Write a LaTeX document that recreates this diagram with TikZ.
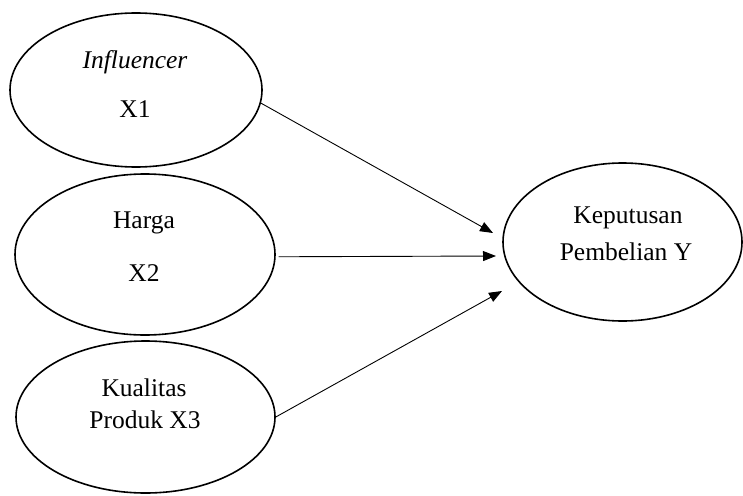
\documentclass[tikz,border=0pt]{standalone}
\usepackage{fontspec}
\setmainfont{Liberation Serif}
\usetikzlibrary{shapes.geometric,arrows.meta}
\begin{document}
\begin{tikzpicture}[x=1pt,y=-1pt,
  var/.style={draw=black,line width=1.6pt,ellipse,inner sep=0pt},
  lbl/.style={inner sep=0pt,font=\fontsize{25.5}{30}\selectfont},
  conn/.style={draw=black,line width=0.9pt,-{Triangle[length=13pt,width=10pt]}}]
\useasboundingbox (0,0) rectangle (743,495);
\node[var,minimum width=252pt,minimum height=154pt] (e1) at (136,90) {};
\node[var,minimum width=260pt,minimum height=161pt] (e2) at (145,254.5) {};
\node[var,minimum width=259pt,minimum height=152pt] (e3) at (145.5,417) {};
\node[var,minimum width=239pt,minimum height=158pt] (e4) at (622.5,242) {};
\node[lbl] (l1a) at (135,62) {\itshape Influencer};
\node[lbl] (l1b) at (135,109) {X1};
\node[lbl] (l2a) at (144,223) {Harga};
\node[lbl] (l2b) at (144,273) {X2};
\node[lbl] (l3a) at (144,388) {Kualitas};
\node[lbl] (l3b) at (145,420) {Produk X3};
\node[lbl] (l4a) at (628,218) {Keputusan};
\node[lbl] (l4b) at (626,252) {Pembelian Y};
\coordinate (t1) at (493,233);
\coordinate (t2) at (496,256);
\coordinate (t3) at (502,291);
\draw[conn] (e1.-6) -- (t1);
\draw[conn,shorten <=3pt] (e2.-1) -- (t2);
\draw[conn] (e3.east) -- (t3);
\end{tikzpicture}
\end{document}
